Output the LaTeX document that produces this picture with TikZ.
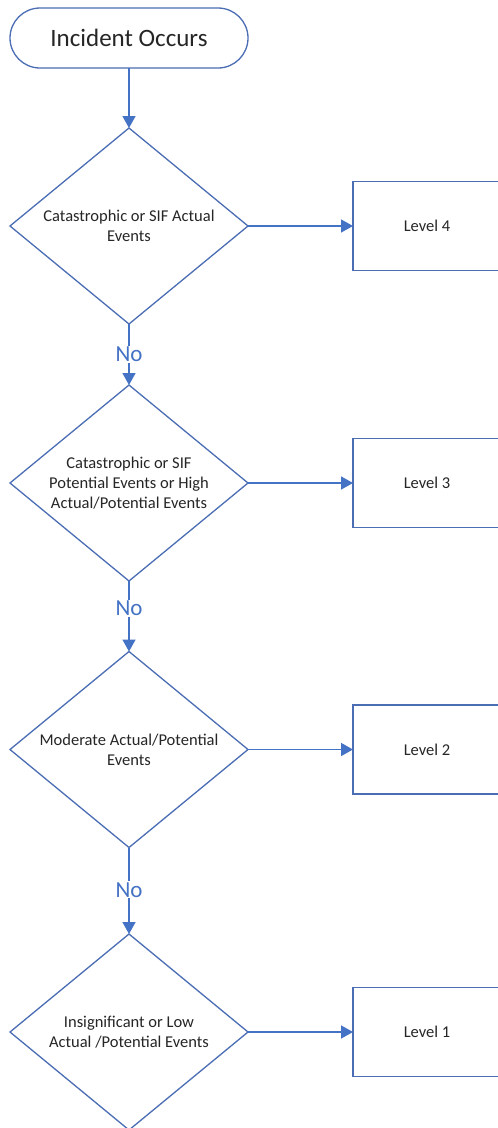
\documentclass[tikz,border=0pt]{standalone}
\usepackage{fontspec}
\setmainfont{Carlito}
\usetikzlibrary{shapes.geometric,arrows.meta}
\definecolor{bl}{HTML}{4472C4}
\definecolor{edgec}{HTML}{4A6DB4}
\definecolor{txt}{HTML}{262626}
\begin{document}
\begin{tikzpicture}[x=1pt,y=1pt,
  shp/.style={draw=edgec, line width=1.3pt, outer sep=0pt, inner sep=0pt, fill=white, text=txt},
  dia/.style={shp, diamond, aspect=1.2, minimum width=238pt, minimum height=196pt, align=center, font=\fontsize{16.5}{20}\selectfont},
  lvl/.style={shp, rectangle, minimum width=148pt, minimum height=89pt, font=\fontsize{16.5}{20}\selectfont},
  term/.style={shp, rectangle, rounded corners=30pt, minimum width=238pt, minimum height=60pt, font=\fontsize{25}{30}\selectfont},
  conn/.style={draw=bl, line width=1.5pt, -{Triangle[length=12pt,width=13pt]}},
  nolab/.style={fill=white, text=bl, font=\fontsize{23}{23}\selectfont, inner sep=1pt}]
\clip (0,0) rectangle (498,-1128);
\fill[white] (0,0) rectangle (498,-1128);
\node[term] (start) at (129,-38) {Incident Occurs};
\node[dia] (d1) at (129,-226) {Catastrophic or SIF Actual\\Events};
\node[dia] (d2) at (129,-483) {Catastrophic or SIF\\Potential Events or High\\Actual/Potential Events};
\node[dia] (d3) at (129,-749.5) {Moderate Actual/Potential\\Events};
\node[dia] (d4) at (129,-1032) {Insignificant or Low\\Actual /Potential Events};
\node[lvl] (l4) at (427,-226) {Level 4};
\node[lvl] (l3) at (427,-483) {Level 3};
\node[lvl] (l2) at (427,-749.5) {Level 2};
\node[lvl] (l1) at (427,-1032) {Level 1};
\draw[conn] (start.south) -- (d1.north);
\draw[conn] (d1.south) -- node[nolab, pos=0.5] {No} (d2.north);
\draw[conn] (d2.south) -- node[nolab, pos=0.39] {No} (d3.north);
\draw[conn] (d3.south) -- node[nolab, pos=0.49] {No} (d4.north);
\draw[conn] (d1.east) -- (l4.west);
\draw[conn] (d2.east) -- (l3.west);
\draw[conn] (d3.east) -- (l2.west);
\draw[conn] (d4.east) -- (l1.west);
\end{tikzpicture}
\end{document}
